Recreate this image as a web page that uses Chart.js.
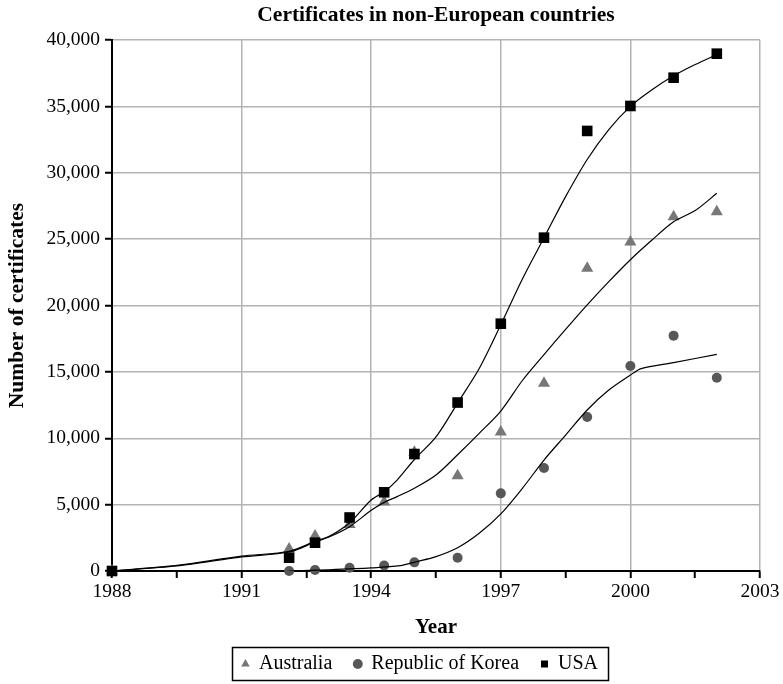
<!DOCTYPE html>
<html>
<head>
<meta charset="utf-8">
<script src="https://cdn.jsdelivr.net/npm/chart.js@4.4.1/dist/chart.umd.min.js"></script>
<style>
  html, body { margin: 0; padding: 0; background: #ffffff; }
  #wrap { width: 783px; height: 684px; }
</style>
</head>
<body>
<div id="wrap"><canvas id="chart" width="783" height="684"></canvas></div>
<script>
// Observation dates (fractional years) and certificate counts per country
const pointYears = [1988, 1992.1, 1992.7, 1993.5, 1994.3, 1995, 1996, 1997, 1998, 1999, 2000, 2001, 2002];
const australia  = [0, 1650, 2640, 3500, 5200, 8950, 7180, 10470, 14140, 22800, 24780, 26690, 27070];
const korea      = [null, 0, 75, 250, 420, 650, 1000, 5850, 7760, 11600, 15440, 17730, 14560];
const usa        = [0, 1000, 2130, 4030, 5930, 8810, 12690, 18630, 25110, 33150, 35030, 37160, 38970];

// Smoothed trend curves
const trendYears   = [1988, 1989.5, 1991, 1992.1, 1992.7, 1993.05, 1993.5, 1994, 1994.3, 1994.6, 1995, 1995.5, 1996, 1996.5, 1997, 1997.5, 1998, 1998.5, 1999, 1999.5, 2000, 2000.5, 2001, 2001.5, 2002];
const usaTrend     = [0, 420, 1120, 1480, 2230, 2650, 3640, 5350, 5970, 6850, 8400, 10100, 12650, 15250, 18550, 22000, 25100, 28200, 31000, 33250, 35000, 36250, 37300, 38150, 38900];
const ausTrend     = [0, 380, 1060, 1430, 2180, 2600, 3340, 4570, 5170, 5600, 6230, 7230, 8760, 10370, 12050, 14350, 16300, 18200, 20050, 21800, 23450, 24930, 26300, 27150, 28450];
const koreaTrendYears = [1992.1, 1993, 1994, 1994.67, 1995.05, 1995.5, 1996, 1996.5, 1997, 1997.5, 1998, 1998.5, 1999, 1999.5, 2000, 2000.25, 2001, 2002];
const koreaTrend      = [0, 90, 230, 400, 700, 1080, 1750, 2840, 4300, 6230, 8360, 10240, 12130, 13630, 14760, 15250, 15700, 16320];

// Axis ticks
const yearMin = 1988, yearMax = 2003, yearStep = 1.5, yearLabelStep = 3;
const countMax = 40000, countStep = 5000;

const TITLE = 'Certificates in non-European countries';
const SERIF = "'Liberation Serif', 'Times New Roman', serif";
const LEGEND_CENTER_X = 420;

function toXY(xs, ys) {
  return xs.map((x, i) => ({ x: x, y: ys[i] })).filter(p => p.y !== null);
}
function isLabelYear(v) {
  const k = (v - yearMin) / yearLabelStep;
  return Math.abs(k - Math.round(k)) < 1e-6;
}

function pointSet(label, ys, style, color, radius, order) {
  return {
    type: 'scatter', label: label, data: toXY(pointYears, ys), order: order,
    pointStyle: style, pointRadius: radius, pointHoverRadius: radius,
    backgroundColor: color, pointBackgroundColor: color,
    borderColor: color, borderWidth: 0, pointBorderWidth: 0, showLine: false,
    clip: false
  };
}
function trendSet(xs, ys) {
  return {
    type: 'line', label: '', data: toXY(xs, ys),
    borderColor: '#000000', borderWidth: 1.2, pointRadius: 0,
    tension: 0.3, fill: false, order: -1
  };
}

const datasets = [
  pointSet('Australia', australia, 'triangle', '#777777', 7, 2),
  pointSet('Republic of Korea', korea, 'circle', '#575757', 5, 3),
  pointSet('USA', usa, 'rect', '#000000', 7.5, 1),
  trendSet(trendYears, ausTrend),
  trendSet(koreaTrendYears, koreaTrend),
  trendSet(trendYears, usaTrend)
];

// Title centred over the plot area
const plotTitle = {
  id: 'plotTitle',
  afterDraw(chart) {
    const ctx = chart.ctx, a = chart.chartArea;
    ctx.save();
    ctx.font = 'bold 21.5px ' + SERIF;
    ctx.fillStyle = '#000';
    ctx.textAlign = 'center';
    ctx.textBaseline = 'middle';
    ctx.fillText(TITLE, (a.left + a.right) / 2, 15);
    ctx.restore();
  }
};

// Place the legend under the plot and frame it
const legendFrame = {
  id: 'legendFrame',
  afterLayout(chart) {
    const lg = chart.legend;
    const dx = LEGEND_CENTER_X - (lg.left + lg.right) / 2;
    lg.left += dx; lg.right += dx;
    (lg.legendHitBoxes || []).forEach(h => { h.left += dx; });
  },
  afterDraw(chart) {
    const boxes = chart.legend.legendHitBoxes;
    if (!boxes || !boxes.length) return;
    let l = Infinity, r = -Infinity, t = Infinity, b = -Infinity;
    boxes.forEach(h => { l = Math.min(l, h.left); r = Math.max(r, h.left + h.width);
      t = Math.min(t, h.top); b = Math.max(b, h.top + h.height); });
    const ctx = chart.ctx;
    ctx.save();
    ctx.strokeStyle = '#000';
    ctx.lineWidth = 1.5;
    ctx.strokeRect(Math.round(l - 10) + 0.5, Math.round(t - 7) + 0.5, Math.round(r - l + 20), Math.round(b - t + 13));
    ctx.restore();
  }
};

Chart.defaults.font.family = SERIF;
Chart.defaults.color = '#000';

new Chart(document.getElementById('chart'), {
  type: 'scatter',
  data: { datasets: datasets },
  options: {
    responsive: false,
    animation: false,
    layout: { padding: { left: 0, right: 23, top: 40, bottom: 0 } },
    plugins: {
      title: { display: false },
      tooltip: { enabled: false },
      legend: {
        display: true, position: 'bottom',
        labels: {
          usePointStyle: true, boxWidth: 7, boxHeight: 7, padding: 22,
          font: { size: 20 }, color: '#000',
          filter: item => item.datasetIndex < 3,
          sort: (a, b) => a.datasetIndex - b.datasetIndex
        }
      }
    },
    scales: {
      x: {
        type: 'linear', min: yearMin, max: yearMax,
        afterFit(scale) { scale.height = 61; },
        ticks: {
          stepSize: yearStep, autoSkip: false, maxRotation: 0, padding: 2,
          font: { size: 19.5 }, color: '#000',
          callback: v => isLabelYear(v) ? String(Math.round(v)) : ''
        },
        grid: {
          color: c => (c.tick && isLabelYear(c.tick.value)) ? '#b3b3b3' : 'rgba(0,0,0,0)',
          lineWidth: 1.5, tickColor: '#000', tickLength: 7, tickWidth: 2
        },
        border: { color: '#000', width: 2 },
        title: {
          display: true, text: 'Year', font: { size: 21, weight: 'bold' }, color: '#000',
          padding: { top: 0, bottom: -8.5 }
        }
      },
      y: {
        type: 'linear', min: 0, max: countMax,
        afterFit(scale) { scale.width = 112; },
        ticks: {
          stepSize: countStep, padding: 5, font: { size: 19.5 }, color: '#000',
          callback: v => Number(v).toLocaleString('en-US')
        },
        grid: { color: '#b3b3b3', lineWidth: 1.5, tickColor: '#000', tickLength: 7, tickWidth: 2 },
        border: { color: '#000', width: 2 },
        title: {
          display: true, text: 'Number of certificates', font: { size: 21.5, weight: 'bold' }, color: '#000',
          padding: { top: 5, bottom: 0 }
        }
      }
    }
  },
  plugins: [plotTitle, legendFrame]
});
</script>
</body>
</html>
